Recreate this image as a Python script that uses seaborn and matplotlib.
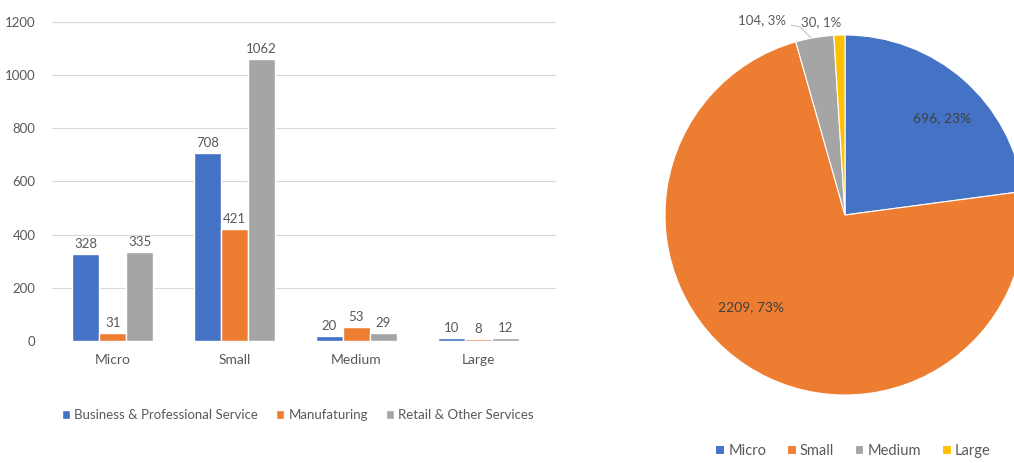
import numpy as np
import pandas as pd
import matplotlib
matplotlib.use("Agg")
import matplotlib.pyplot as plt
import seaborn as sns

# Firms by size band and sector
sizes = ["Micro", "Small", "Medium", "Large"]
sectors = ["Business & Professional Service", "Manufaturing", "Retail & Other Services"]
business = [328, 708, 20, 10]
manufacturing = [31, 421, 53, 8]
retail = [335, 1062, 29, 12]

# Totals by size band
size_totals = [696, 2209, 104, 30]

sector_colors = ["#4472C4", "#ED7D31", "#A5A5A5"]
size_colors = ["#4472C4", "#ED7D31", "#A5A5A5", "#FFC000"]
text_color = "#595959"

sns.set_theme(style="white")
plt.rcParams["font.family"] = ["Lato", "DejaVu Sans"]

W, H = 1014, 463
fig = plt.figure(figsize=(W / 100, H / 100), dpi=100)

# ---- clustered bar chart ----
ax = fig.add_axes([52 / W, 122 / H, (556 - 52) / W, 319 / H])
df = pd.DataFrame({
    "size": np.repeat(sizes, len(sectors)),
    "sector": sectors * len(sizes),
    "count": [v for trio in zip(business, manufacturing, retail) for v in trio],
})
sns.barplot(data=df, x="size", y="count", hue="sector", order=sizes,
            hue_order=sectors, palette=sector_colors, width=0.665,
            saturation=1, ax=ax, legend=True)
for cont in ax.containers:
    ax.bar_label(cont, fmt="%d", padding=3, fontsize=9.5, color=text_color)

ax.set_ylim(0, 1200)
ax.set_xlim(-0.5, 3.64)
ax.set_yticks(range(0, 1201, 200))
ax.grid(axis="y", color="#D9D9D9", linewidth=0.8)
ax.set_axisbelow(True)
for s in ax.spines.values():
    s.set_visible(False)
ax.set_xlabel("")
ax.set_ylabel("")
ax.tick_params(axis="y", length=0, pad=12, labelsize=9.5, labelcolor=text_color)
ax.tick_params(axis="x", length=0, pad=9, labelsize=10, labelcolor=text_color)

leg = ax.legend(loc="center", bbox_to_anchor=(298 / W, (H - 415) / H),
                bbox_transform=fig.transFigure, ncol=3, frameon=False,
                fontsize=9.5, handlelength=0.6, handleheight=0.6,
                handletextpad=0.3, columnspacing=1.4)
for t in leg.get_texts():
    t.set_color(text_color)

# ---- pie chart ----
cx, cy, r = 845, 215, 180
pax = fig.add_axes([(cx - r) / W, (H - cy - r) / H, 2 * r / W, 2 * r / H])
total = sum(size_totals)
wedges, _ = pax.pie(size_totals, colors=size_colors, startangle=90,
                    counterclock=False,
                    wedgeprops=dict(edgecolor="white", linewidth=0.8))
pax.set_xlim(-1, 1)
pax.set_ylim(-1, 1)
pax.set_aspect("equal")
pax.axis("off")

pcts = [round(100 * v / total) for v in size_totals]
labels = [f"{v}, {p}%" for v, p in zip(size_totals, pcts)]
label_pos = [(0.54, 0.54), (-0.52, -0.51), (-0.46, 1.083), (-0.13, 1.07)]
for lab, (lx, ly) in zip(labels, label_pos):
    pax.text(lx, ly, lab, ha="center", va="center",
             fontsize=10 if ly < 1 else 9.5,
             color="#404040" if ly < 1 else text_color, clip_on=False)
# leader line from the Medium label down to its slice
pax.plot([-0.30, -0.25, -0.19], [1.055, 1.045, 0.985],
         color="#BFBFBF", linewidth=0.7, clip_on=False)

pleg = pax.legend(wedges, sizes, loc="center", bbox_to_anchor=(853 / W, (H - 451) / H),
                  bbox_transform=fig.transFigure, ncol=4, frameon=False,
                  fontsize=10.5, handlelength=0.6, handleheight=0.6,
                  handletextpad=0.3, columnspacing=1.4)
for t in pleg.get_texts():
    t.set_color(text_color)

fig.savefig("out.png", dpi=100, facecolor="white")
